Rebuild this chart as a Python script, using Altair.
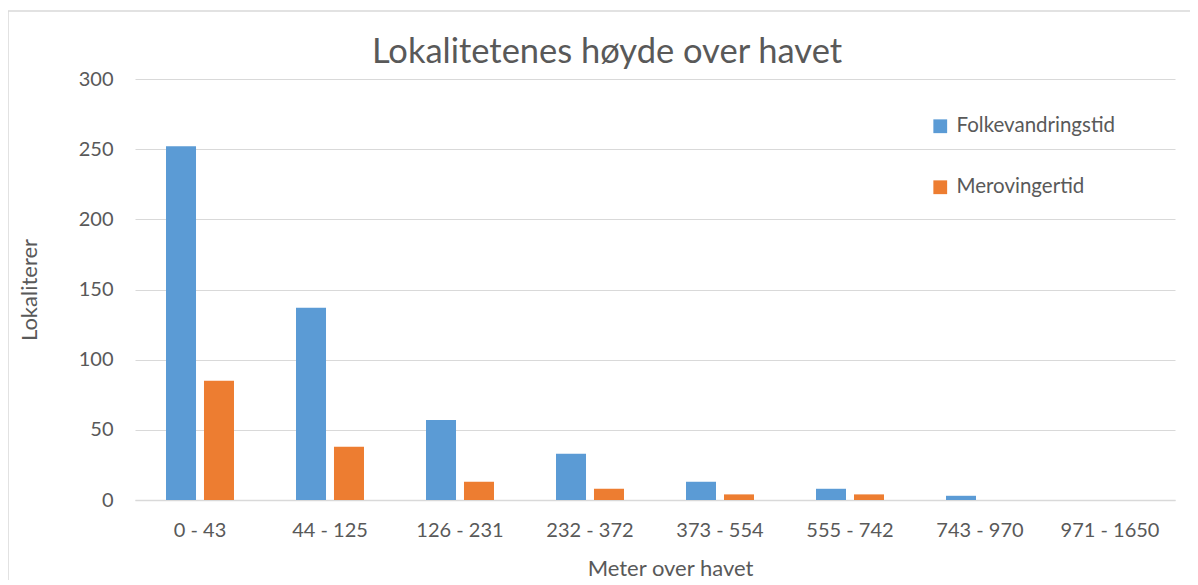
import altair as alt
import pandas as pd

categories = ["0 - 43", "44 - 125", "126 - 231", "232 - 372", "373 - 554",
              "555 - 742", "743 - 970", "971 - 1650"]
folkevandringstid = [252, 137, 57, 33, 13, 8, 3, 0]
merovingertid = [85, 38, 13, 8, 4, 4, 0, 0]
series = ["Folkevandringstid", "Merovingertid"]
colors = ["#5B9BD5", "#ED7D31"]

rows = []
for i, c in enumerate(categories):
    rows.append({"kat": c, "serie": series[0], "verdi": folkevandringstid[i]})
    rows.append({"kat": c, "serie": series[1], "verdi": merovingertid[i]})
df = pd.DataFrame(rows)

FONT = "Lato"
TXT = "#595959"

bars = alt.Chart(df).mark_bar().encode(
    x=alt.X("kat:N", sort=categories,
            scale=alt.Scale(paddingInner=0.477, paddingOuter=0.2385),
            axis=alt.Axis(title="Meter over havet", labelAngle=0, ticks=False,
                          domainColor="#D9D9D9", domainWidth=1.5,
                          labelPadding=20, titlePadding=18, titleX=535)),
    xOffset=alt.XOffset("serie:N", sort=series,
                        scale=alt.Scale(paddingInner=0.21, paddingOuter=0)),
    y=alt.Y("verdi:Q", scale=alt.Scale(domain=[0, 300]),
            axis=alt.Axis(title="Lokaliterer", values=[0, 50, 100, 150, 200, 250, 300],
                          ticks=False, domain=False, gridColor="#D9D9D9",
                          labelPadding=22, titlePadding=37)),
    color=alt.Color("serie:N", sort=series,
                    scale=alt.Scale(domain=series, range=colors),
                    legend=alt.Legend(title=None, orient="none", legendX=795, legendY=37,
                                      symbolType="square", symbolSize=190,
                                      symbolStrokeWidth=0, labelFontSize=20.5,
                                      labelFont=FONT, labelColor=TXT,
                                      rowPadding=40, labelOffset=6))
)

frame = alt.Chart(pd.DataFrame({"a": [0]})).mark_rect(
    fill=None, stroke="#D9D9D9", strokeWidth=1.5, clip=False
).encode(x=alt.value(-127), x2=alt.value(1062), y=alt.value(-68), y2=alt.value(520))

chart = alt.layer(frame, bars).properties(
    width=1040, height=421,
    title=alt.Title("Lokalitetenes høyde over havet", fontSize=34.5, font=FONT,
                    fontWeight="normal", color=TXT, anchor="middle", frame="group",
                    dx=-48, dy=72, offset=12),
    padding={"left": 127, "top": 71, "right": 15, "bottom": 80},
    autosize=alt.AutoSizeParams(type="none")
).configure_view(stroke=None).configure_axis(
    labelFont=FONT, labelFontSize=20, labelColor=TXT,
    titleFont=FONT, titleFontSize=22, titleColor=TXT, titleFontWeight="normal"
)

chart.save("out.html", embed_options={"renderer": "svg", "actions": False})
